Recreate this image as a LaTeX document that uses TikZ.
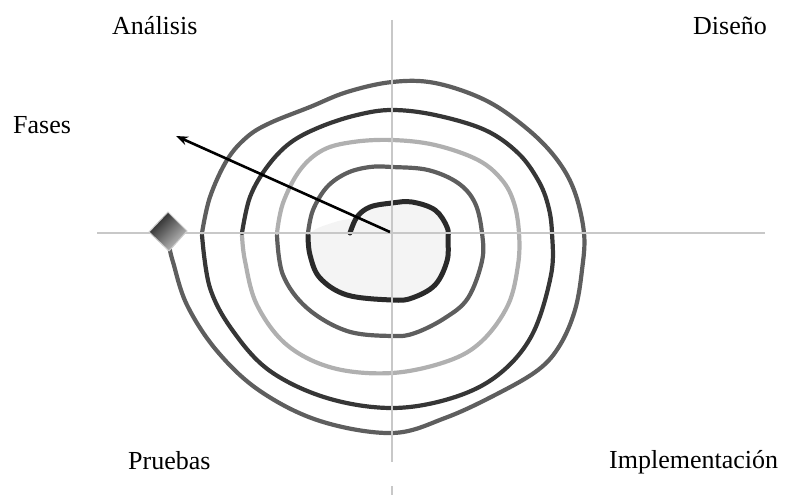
\documentclass[tikz,border=0pt]{standalone}
\usepackage{fontspec}
\setmainfont{Liberation Serif}
\usetikzlibrary{arrows.meta}
\definecolor{ringdark}{HTML}{2A2A2A}
\definecolor{ringtwo}{HTML}{363636}
\definecolor{ringmid}{HTML}{5E5E5E}
\definecolor{ringlight}{HTML}{B0B0B0}
\definecolor{axisgray}{HTML}{C8C8C8}
\definecolor{corefill}{HTML}{F4F4F4}
\tikzset{
  ring/.style={line width=4.2pt, line cap=round, line join=round},
  axisline/.style={draw=axisgray, line width=2.4pt},
  label/.style={anchor=base west, inner sep=0pt, font=\fontsize{26}{30}\selectfont},
}
\begin{document}
\begin{tikzpicture}[x=1pt,y=-1pt]
\useasboundingbox (0,0) rectangle (786,495);
% core fill
\fill[corefill] plot[smooth cycle, tension=0.6] coordinates {(357,217) (370,207) (392,203) (412,202) (435,210) (447,227) (448,240) (447,261) (435,285) (412,298) (392,300) (347,295) (320,278) (310,255) (311,233) (335,222)};
% spiral loops
\draw[ring, ringdark, line width=5pt] plot[smooth, tension=0.6] coordinates {(350,233) (357,217) (370,207) (392,203) (412,202) (435,210) (447,227) (448,240) (447,261) (435,285) (412,298) (392,300) (347,295) (320,278) (310,255) (308,235)};
\draw[ring, ringmid] plot[smooth, tension=0.6] coordinates {(308,233) (313,210) (327,187) (347,173) (370,167) (392,167) (428,170) (458,183) (475,203) (482,233) (482,261) (468,298) (445,318) (415,333) (392,336) (347,331) (307,308) (283,275) (277,235)};
\draw[ring, ringlight] plot[smooth, tension=0.6] coordinates {(277,233) (283,203) (300,170) (323,150) (353,142) (392,140) (435,145) (478,160) (502,180) (514,203) (519,233) (518,265) (508,305) (482,341) (448,361) (392,373) (333,368) (287,345) (257,305) (245,261) (242,235)};
\draw[ring, ringtwo] plot[smooth, tension=0.6] coordinates {(242,233) (250,197) (267,167) (290,143) (320,127) (357,115) (392,110) (435,115) (485,130) (518,153) (538,180) (548,205) (552,233) (551,275) (532,335) (498,375) (452,398) (392,408) (327,398) (270,371) (233,331) (210,288) (202,235)};
\draw[ring, ringmid] plot[smooth, tension=0.6] coordinates {(202,233) (210,197) (227,160) (247,137) (270,123) (310,107) (347,92) (392,82) (435,83) (485,100) (525,127) (555,157) (574,190) (584,233) (582,270) (575,310) (560,345) (538,370) (495,395) (445,418) (392,433) (320,421) (260,391) (217,351) (187,305) (173,262) (170,250)};
% axes
\coordinate (vtop) at (392,20);
\coordinate (vbot) at (392,462);
\coordinate (dtop) at (392,486);
\coordinate (dbot) at (392,495);
\coordinate (hleft) at (97,233);
\coordinate (hright) at (765,233);
\draw[axisline] (vtop) -- (vbot);
\draw[axisline] (dtop) -- (dbot);
\draw[axisline] (hleft) -- (hright);
% arrow
\coordinate (centre) at (390,232);
\coordinate (tip) at (176,136);
\draw[line width=2.6pt, -{Stealth[length=12pt,width=9pt]}] (centre) -- (tip);
% diamond marker
\shade[draw=gray!40, line width=1pt, top color=black!88, bottom color=gray!45, shading angle=45]
  (168,212) -- (187,231) -- (169,251) -- (149,232) -- cycle;
% labels
\node[label] (analisis) at (112,35) {Análisis};
\node[label] (diseno) at (693,35) {Diseño};
\node[label] (fases) at (13,133) {Fases};
\node[label] (pruebas) at (128,469) {Pruebas};
\node[label] (impl) at (609,468) {Implementación};
\end{tikzpicture}
\end{document}
